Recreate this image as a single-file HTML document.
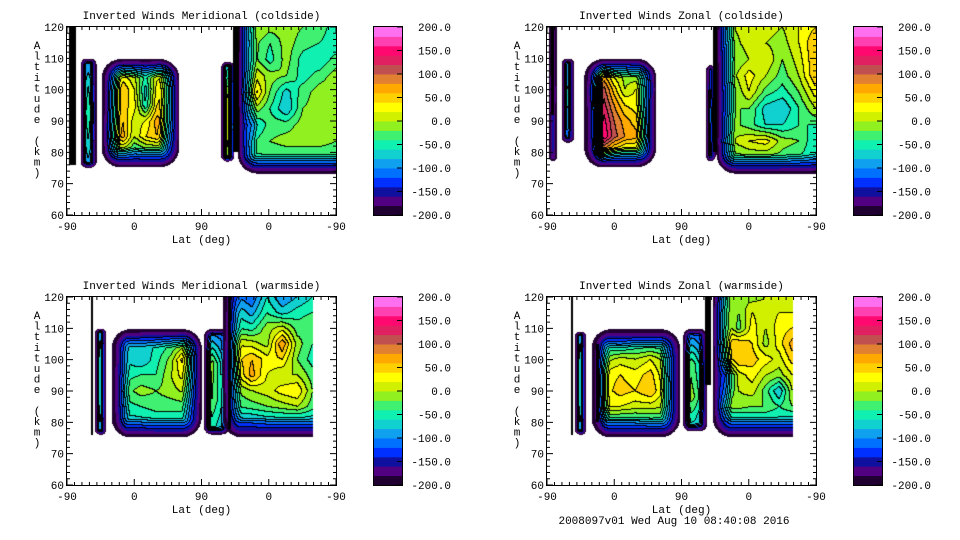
<!DOCTYPE html>
<html><head><meta charset="utf-8">
<style>
body{margin:0;background:#fff;width:960px;height:540px;overflow:hidden;position:relative;font-family:"Liberation Mono",monospace}
canvas{position:absolute}
svg{position:absolute;left:0;top:0}
text{font-family:"Liberation Mono",monospace;font-size:11px;fill:#000}
</style></head><body>
<div id="root"></div>
<svg id="axes" width="960" height="540"></svg>
<script>
const bandColors=["#200030","#500080","#1010a0","#0030ff","#0070ff","#10a0f0","#10d0d0","#10f0b0","#40f070","#90f020","#d0f000","#ffff00","#ffd000","#ffa800","#e08030","#c05050","#e02060","#ff0870","#ff40b0","#ff70f0"];
const cbarLabels=["200.0","150.0","100.0","50.0","0.0","-50.0","-100.0","-150.0","-200.0"];
const yTicks=[60,70,80,90,100,110,120];
const xTickLabels=["-90","0","90","0","-90"];
const tlRegions=[
 {dense:1,u0:3,u1:12,a0:76,a1:120},
 {u0:18,u1:40,a0:75,a1:110,e:"lrtb",f:6,g:[[-120,-100,-120],[-110,-60,-110],[-110,-40,-110],[-110,-60,-110],[-120,-90,-120]]},
 {u0:45,u1:151,a0:75,a1:110,e:"lrtb",g:[[-110,-90,-60,-50,-60,-50,-50,-60],[-120,-60,20,0,-40,10,20,-20],[-120,-20,60,20,-70,30,60,40],[-120,-10,50,30,-60,40,50,70],[-110,0,60,10,20,70,40,70],[-110,20,70,0,40,60,10,30],[-110,-30,-20,-50,-40,-40,-50,-50],[-110,-60,-60,-60,-60,-60,-60,-60]]},
 {u0:206,u1:224,a0:77,a1:109,e:"lrtb",f:6,g:[[-100,-60],[-60,60],[-60,90],[-80,40]]},
 {u0:228,u1:360,a0:73,a1:120,e:"lb",g:[[20,0,-10,-10,-20,-20,-60],[30,-10,-40,-10,-30,-40,-60],[40,-10,-50,-10,-50,-60,-30],[40,20,-10,-20,-50,-30,-10],[50,60,-20,-70,-30,-10,-10],[30,0,-40,-80,-20,-10,-10],[10,-70,-30,-30,-10,-10,-20],[0,-40,-20,-10,-10,-10,-20],[-30,-40,-40,-40,-40,-40,-40],[-60,-60,-60,-60,-60,-60,-60]]},
 {dense:1,u0:222,u1:230,a0:80,a1:120}
];
const trRegions=[
 {u0:2,u1:14,a0:77,a1:120,e:"lrb",f:5,g:[[-150,-150],[-140,-140],[-150,-150]]},
 {dense:1,u0:6,u1:9,a0:92,a1:120},
 {u0:19,u1:37,a0:83,a1:110,e:"lrtb",f:6,g:[[-130,-90,-130],[-130,-70,-130],[-130,-110,-130]]},
 {u0:48,u1:147,a0:75,a1:110,e:"lrtb",g:[[-110,-90,-50,-40,-30,-30,-40,-60],[-140,-60,60,10,-10,-20,-10,-20],[-140,-20,110,50,0,20,20,10],[-140,-40,130,80,40,30,10,-40],[-140,-60,150,100,70,50,30,-80],[-140,-60,160,110,80,70,40,-60],[-140,-80,60,20,0,0,-20,-60],[-120,-80,-40,-60,-60,-60,-60,-60]]},
 {u0:212,u1:226,a0:77,a1:108,e:"lrtb",f:6,g:[[-140,-100],[-120,-60],[-130,-80]]},
 {u0:226,u1:360,a0:73,a1:120,e:"lb",g:[[10,0,10,10,0,20,40],[0,-10,10,0,-10,20,60],[-10,-20,0,20,-20,10,60],[-30,-10,30,0,-30,0,60],[-40,-30,20,-30,-50,-20,30],[-50,-20,-20,-70,-80,-40,0],[-40,-10,-30,-60,-60,-40,-40],[-10,0,20,30,-10,-20,-60],[-40,-30,-20,-20,-30,-40,-60],[-60,-60,-60,-60,-60,-60,-60]]},
 {dense:1,u0:222,u1:228,a0:80,a1:120}
];
const blRegions=[
 {dense:1,u0:32,u1:35,a0:76,a1:120},
 {u0:37,u1:53,a0:76,a1:110,e:"lrtb",f:5,g:[[-130,-90,-130],[-120,-60,-120],[-120,-60,-120],[-130,-90,-130]]},
 {u0:58,u1:181,a0:75,a1:110,e:"lrtb",g:[[-110,-100,-90,-80,-80,-80,-80],[-140,-70,-70,-60,-40,-10,-20],[-140,-60,-80,-50,-10,70,20],[-130,-50,-40,-40,0,40,20],[-130,-30,-10,-20,-10,10,0],[-130,-50,-40,-30,-30,-30,-30],[-140,-70,-70,-60,-60,-60,-60],[-110,-70,-70,-70,-70,-70,-70]]},
 {u0:183,u1:218,a0:76,a1:110,e:"lrtb",f:8,g:[[-130,-120,-120,-140],[-30,-10,-60,-140],[-30,-20,-50,-140],[-70,-60,-80,-140]]},
 {u0:207,u1:329,a0:75,a1:120,e:"lb",g:[[-130,-100,-120,-60,-100,-80,-60],[-120,-60,-90,-40,-70,-50,-40],[-110,-40,-50,-10,10,-30,-20],[-100,20,10,-10,80,-10,-40],[-90,30,60,30,40,-20,-50],[-80,10,70,20,0,0,-30],[-90,-20,0,10,30,40,-20],[-100,-40,-30,-20,-10,0,-30],[-120,-90,-90,-80,-80,-80,-80],[-110,-70,-70,-70,-70,-70,-70]]},
 {dense:1,u0:215,u1:220,a0:78,a1:120}
];
const brRegions=[
 {dense:1,u0:32,u1:35,a0:76,a1:120},
 {u0:37,u1:53,a0:76,a1:109,e:"lrtb",f:5,g:[[-130,-90,-130],[-120,-60,-120],[-120,-60,-120],[-130,-90,-130]]},
 {u0:58,u1:179,a0:75,a1:110,e:"lrtb",g:[[-120,-110,-100,-100,-100,-100,-100],[-140,-70,-80,-60,-60,-60,-60],[-140,-10,10,0,20,-10,-20],[-140,30,40,30,50,0,-10],[-140,30,50,40,60,10,-10],[-140,20,20,10,10,0,-10],[-140,-60,-60,-60,-50,-50,-60],[-110,-70,-70,-70,-70,-70,-70]]},
 {dense:1,u0:66,u1:69,a0:80,a1:105},
 {u0:182,u1:215,a0:77,a1:110,e:"lrtb",f:8,g:[[-130,-130,-140],[0,-40,-100],[10,-20,-80],[-70,-80,-120]]},
 {u0:221,u1:329,a0:75,a1:120,e:"lb",g:[[-20,0,0,-10,0,0,0],[20,20,-20,20,10,20,20],[10,30,-30,30,0,30,40],[0,50,60,40,-10,30,70],[-20,20,60,50,30,10,50],[-40,-80,10,30,0,-10,20],[-20,-60,0,10,-30,-80,0],[-20,-10,-10,-20,-20,-40,-20],[-80,-80,-80,-70,-70,-70,-80],[-70,-70,-70,-70,-70,-70,-70]]},
 {dense:1,u0:211,u1:219,a0:92,a1:120}
];
const panels=[
 {name:"meridional-coldside",title:"Inverted Winds Meridional (coldside)",x:67,y:27,regions:tlRegions},
 {name:"zonal-coldside",title:"Inverted Winds Zonal (coldside)",x:547,y:27,regions:trRegions},
 {name:"meridional-warmside",title:"Inverted Winds Meridional (warmside)",x:67,y:297,regions:blRegions},
 {name:"zonal-warmside",title:"Inverted Winds Zonal (warmside)",x:547,y:297,regions:brRegions}
];
const W=269,H=188,FD=20;
const NS="http://www.w3.org/2000/svg";
const svg=document.getElementById('axes');
function el(tag,attrs,txt){const e=document.createElementNS(NS,tag);for(const k in attrs)e.setAttribute(k,attrs[k]);if(txt!==undefined)e.textContent=txt;svg.appendChild(e);return e;}
function hex(c){return [parseInt(c.substr(1,2),16),parseInt(c.substr(3,2),16),parseInt(c.substr(5,2),16)];}
const rgb=bandColors.map(hex);
function sampleRegion(r,u,a){
 const nr=r.g.length,nc=r.g[0].length,F=r.f||FD;
 let fx=(u-r.u0)/(r.u1-r.u0)*(nc-1),fy=(r.a1-a)/(r.a1-r.a0)*(nr-1);
 fx=Math.max(0,Math.min(nc-1,fx));fy=Math.max(0,Math.min(nr-1,fy));
 const i=Math.min(nc-2,Math.floor(fx)),j=Math.min(nr-2,Math.floor(fy));
 const tx=nc>1?fx-i:0,ty=nr>1?fy-j:0;
 const g=r.g,i1=nc>1?i+1:0,j1=nr>1?j+1:0,i0=nc>1?i:0,j0=nr>1?j:0;
 let v=(g[j0][i0]*(1-tx)+g[j0][i1]*tx)*(1-ty)+(g[j1][i0]*(1-tx)+g[j1][i1]*tx)*ty;
 const e=r.e||"";
 const dl=e.includes('l')?(u-r.u0)*W/360:99,dr=e.includes('r')?(r.u1-u)*W/360:99;
 const dt=e.includes('t')?(r.a1-a)*H/60:99,db=e.includes('b')?(a-r.a0)*H/60:99;
 const dx=Math.min(dl,dr),dy=Math.min(dt,db);
 const ex=Math.max(F-dx,0),ey=Math.max(F-dy,0);
 const d=F-Math.hypot(ex,ey);
 if(d<0)return null;
 const s=Math.min(1,d/F);
 return -205+(v+205)*s;
}
panels.forEach(p=>{
 const cv=document.createElement('canvas');cv.width=W;cv.height=H;
 cv.style.left=p.x+'px';cv.style.top=p.y+'px';
 
 
 document.body.insertBefore(cv,svg);
 const ctx=cv.getContext('2d');const img=ctx.createImageData(W,H);
 const band=new Int8Array(W*H).fill(-1);const dense=new Uint8Array(W*H);
 for(let py=0;py<H;py++)for(let px=0;px<W;px++){
  const u=(px+0.5)/W*360,a=120-(py+0.5)/H*60;
  for(const r of p.regions){
   if(u<r.u0||u>r.u1||a<r.a0||a>r.a1)continue;
   if(r.dense){dense[py*W+px]=1;continue;}
   const v=sampleRegion(r,u,a);
   if(v===null||v<-200)continue;
   band[py*W+px]=Math.max(0,Math.min(19,Math.floor((v+200)/20)));
   dense[py*W+px]=0;
  }
 }
 for(let py=0;py<H;py++)for(let px=0;px<W;px++){
  const k=py*W+px,b=band[k];let c=[255,255,255];
  if(dense[k])c=[0,0,0];
  else if(b>=0){c=rgb[b];
   const br=px<W-1?band[k+1]:-1,bd=py<H-1?band[k+W]:-1;
   if(b>=2&&((br>=2&&br!==b)||(bd>=2&&bd!==b)))c=[0,0,0];}
  img.data[k*4]=c[0];img.data[k*4+1]=c[1];img.data[k*4+2]=c[2];img.data[k*4+3]=255;
 }
 ctx.putImageData(img,0,0);
 const X=p.x,Y=p.y;
 const fr=el('rect',{x:X-0.5,y:Y-0.5,width:W+1,height:H+1,fill:'none',stroke:'#000','stroke-width':1});
 
 let dpath='';
 for(let k=60;k<=120;k+=2){const yy=Y+H-(k-60)/60*H;const L=(k%10===0)?6:3;
  dpath+=`M${X},${yy}h${L}M${X+W},${yy}h${-L}`;}
 for(let k=0;k<=360;k+=10){const xx=X+k/360*W;const L=(k%90===0)?6:3;
  dpath+=`M${xx},${Y+H}v${-L}M${xx},${Y}v${L}`;}
 const tk=el('path',{d:dpath,stroke:'#000','stroke-width':1,fill:'none'});
 
 yTicks.forEach(t=>{const yy=Y+H-(t-60)/60*H;
  const tl=el('text',{x:X-3,y:yy+4,'text-anchor':'end'},String(t));
  });
 xTickLabels.forEach((t,i)=>{const xx=X+i*90/360*W;
  const tl=el('text',{x:xx,y:Y+H+15,'text-anchor':'middle'},t);
  });
 const tt=el('text',{x:X+W/2,y:Y-8,'text-anchor':'middle'},p.title);
 
 const xt=el('text',{x:X+W/2,y:Y+H+28,'text-anchor':'middle'},'Lat (deg)');
 
 const yt=el('text',{x:37,y:Y+22,'text-anchor':'middle'});
 
 "Altitude (km)".split('').forEach((ch,i)=>{const ts=document.createElementNS(NS,'tspan');ts.setAttribute('x',X-30);ts.setAttribute('y',Y+22+i*10.6);ts.textContent=ch;yt.appendChild(ts);});
 const cx=X+307,cw=28;
 bandColors.forEach((c,i)=>{const r=el('rect',{x:cx,y:Y+H-(i+1)*H/20,width:cw,height:H/20+0.5,fill:c});
  });
 const cb=el('rect',{x:cx-0.5,y:Y-0.5,width:cw+1,height:H+1,fill:'none',stroke:'#000'});
 
 cbarLabels.forEach((t,i)=>{const yy=Y+i*H/8;
  const tm=el('path',{d:`M${cx+cw-5},${yy}h5`,stroke:'#000'});
  
  const tl=el('text',{x:cx+77,y:yy+4,'text-anchor':'end'},t);
  });
});
const ft=el('text',{x:674,y:524,'text-anchor':'middle'},'2008097v01 Wed Aug 10 08:40:08 2016');

</script>
</body></html>
